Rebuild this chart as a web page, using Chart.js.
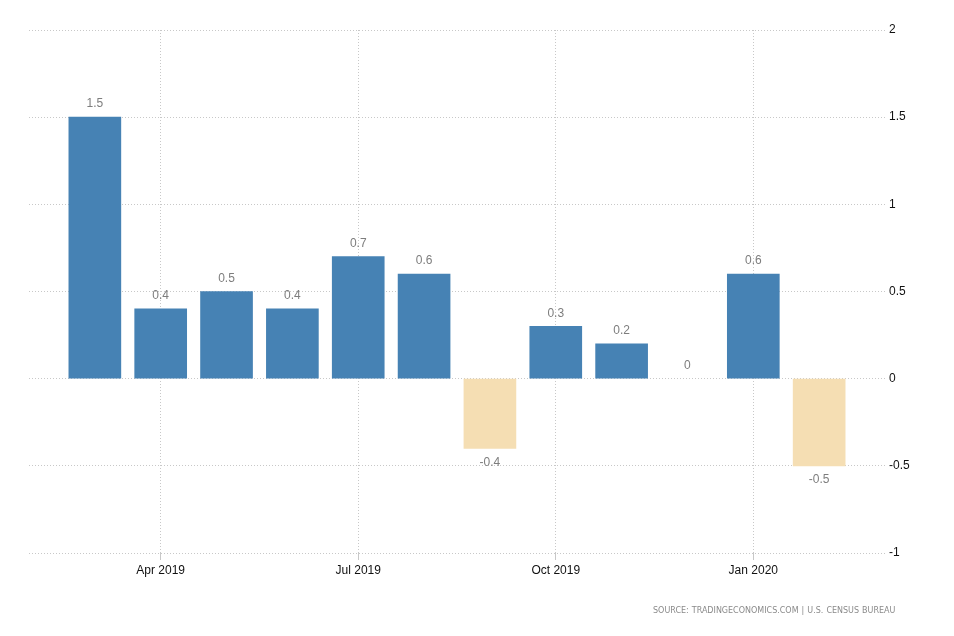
<!DOCTYPE html>
<html lang="en">
<head>
    <meta charset="UTF-8">
    <title>Monthly change</title>
    <style>
        body { margin: 0; background: #fff; }
        #wrap { position: relative; width: 954px; height: 636px; }
        #source {
            position: absolute; left: 653px; top: 606px;
            font: 8px "DejaVu Sans", sans-serif; word-spacing: 0.5px;
            color: #8a8a8a; white-space: nowrap;
        }
    </style>
</head>
<body>
    <div id="wrap">
        <canvas id="grafica" width="954" height="636"></canvas>
        <div id="source">SOURCE: TRADINGECONOMICS.COM | U.S. CENSUS BUREAU</div>
    </div>

    <script src="https://cdn.jsdelivr.net/npm/chart.js"></script>
    <script>
        const meses = ['Feb 2019', 'Mar 2019', 'Apr 2019', 'May 2019', 'Jun 2019', 'Jul 2019', 'Aug 2019',
            'Sep 2019', 'Oct 2019', 'Nov 2019', 'Dec 2019', 'Jan 2020', 'Feb 2020', 'Mar 2020'];
        const valores = [null, 1.5, 0.4, 0.5, 0.4, 0.7, 0.6, -0.4, 0.3, 0.2, 0, 0.6, -0.5, null];
        const etiquetasX = ['Apr 2019', 'Jul 2019', 'Oct 2019', 'Jan 2020'];
        const ticksY = [2, 1.5, 1, 0.5, 0, -0.5, -1];

        const fuente = '"Liberation Sans", Arial, sans-serif';

        // etiquetas de valor encima/debajo de cada barra
        const etiquetasValor = {
            id: 'etiquetasValor',
            afterDatasetsDraw(chart) {
                const ctx = chart.ctx;
                const meta = chart.getDatasetMeta(0);
                ctx.save();
                ctx.font = '12px ' + fuente;
                ctx.fillStyle = '#7d7d7d';
                ctx.textAlign = 'center';
                ctx.textBaseline = 'middle';
                meta.data.forEach((bar, i) => {
                    const v = valores[i];
                    if (v === null) return;
                    const y = v < 0 ? bar.y + 14 : bar.y - 13;
                    ctx.fillText(String(v), bar.x, y);
                });
                ctx.restore();
            }
        };

        const ctx = document.getElementById('grafica').getContext('2d');
        new Chart(ctx, {
            type: 'bar',
            data: {
                labels: meses,
                datasets: [{
                    data: valores,
                    backgroundColor: valores.map(v => v < 0 ? '#f5deb3' : (v === 0 ? 'rgba(0,0,0,0)' : '#4682b4')),
                    borderWidth: 0,
                    barThickness: 52
                }]
            },
            options: {
                responsive: false,
                animation: false,
                layout: { padding: { left: 29, top: 30, right: 0, bottom: 0 } },
                plugins: { legend: { display: false }, tooltip: { enabled: false } },
                scales: {
                    x: {
                        offset: false,
                        afterFit: s => { s.height = 83; },
                        border: { display: false, dash: [1, 2] },
                        grid: {
                            offset: false,
                            color: c => etiquetasX.includes(meses[c.index]) ? '#c8c8c8' : 'rgba(0,0,0,0)',
                            tickLength: 7
                        },
                        ticks: {
                            autoSkip: false,
                            maxRotation: 0,
                            padding: 3,
                            color: '#111',
                            font: { size: 12, family: fuente },
                            callback: (v, i) => etiquetasX.includes(meses[i]) ? meses[i] : ''
                        }
                    },
                    y: {
                        position: 'right',
                        min: -1,
                        max: 2,
                        afterFit: s => { s.width = 69; },
                        afterBuildTicks: s => { s.ticks = ticksY.map(v => ({ value: v })); },
                        border: { display: false, dash: [1, 2] },
                        grid: { color: '#c8c8c8', drawTicks: false },
                        ticks: {
                            padding: 4,
                            color: '#111',
                            font: { size: 12, family: fuente },
                            callback: v => String(v)
                        }
                    }
                }
            },
            plugins: [etiquetasValor]
        });
    </script>
</body>
</html>
